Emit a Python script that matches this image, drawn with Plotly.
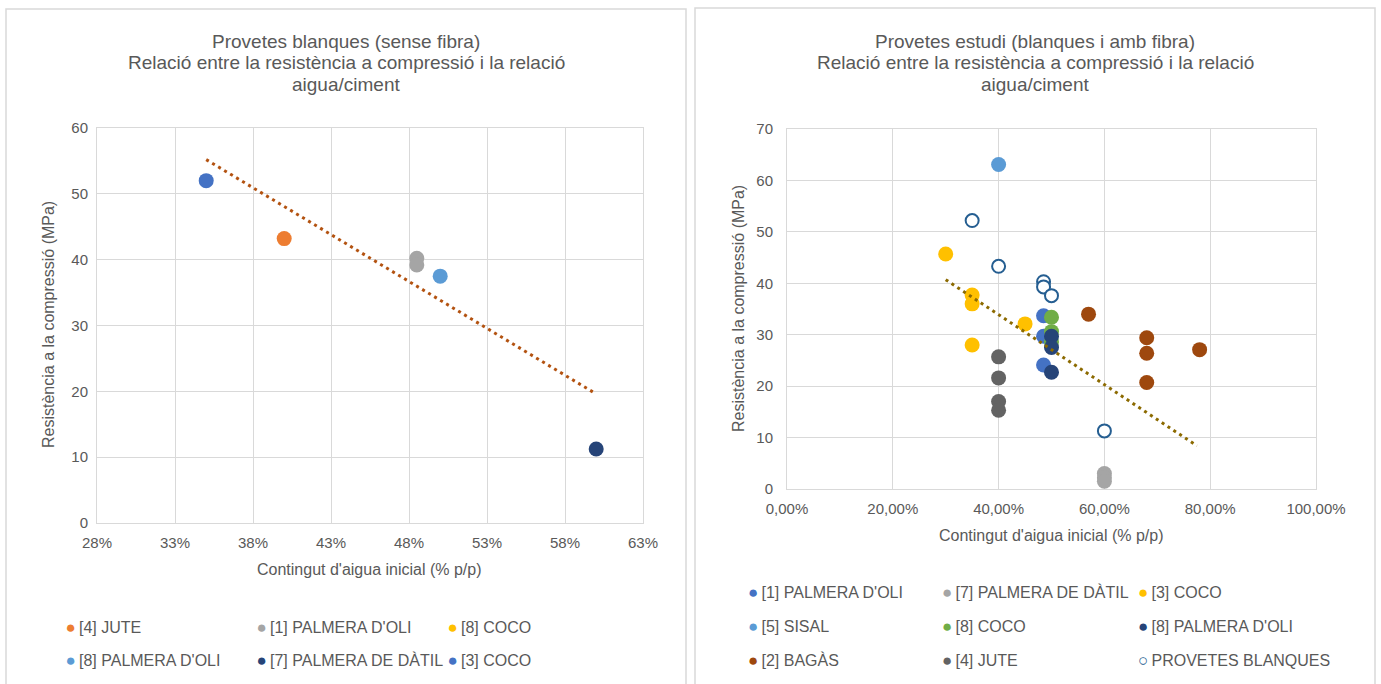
import plotly.graph_objects as go

W, H = 1381, 684

# ---------------- data: left chart (blank specimens) ----------------
L_NAMES = ["[4] JUTE", "[1] PALMERA D'OLI", "[8] COCO",
           "[8] PALMERA D'OLI", "[7] PALMERA DE DÀTIL", "[3] COCO"]
L_X = [[0.40], [0.485, 0.485], [], [0.50], [0.60], [0.35]]
L_Y = [[43.2], [40.2, 39.2], [], [37.5], [11.25], [52.0]]
L_TREND_X = [0.35, 0.60]
L_TREND_Y = [55.2, 19.6]

# ---------------- data: right chart (study specimens) ----------------
R_NAMES = ["[1] PALMERA D'OLI", "[7] PALMERA DE DÀTIL", "[3] COCO",
           "[5] SISAL", "[8] COCO", "[8] PALMERA D'OLI",
           "[2] BAGÀS", "[4] JUTE", "PROVETES BLANQUES"]
R_X = [
    [0.485, 0.485, 0.485],
    [0.60, 0.60, 0.60],
    [0.30, 0.35, 0.35, 0.35, 0.45],
    [0.40],
    [0.50, 0.50, 0.50],
    [0.50, 0.50, 0.50],
    [0.57, 0.68, 0.68, 0.68, 0.78],
    [0.40, 0.40, 0.40, 0.40],
    [0.35, 0.40, 0.485, 0.485, 0.50, 0.60],
]
R_Y = [
    [33.7, 29.7, 24.1],
    [3.0, 2.2, 1.5],
    [45.7, 37.7, 36.0, 28.0, 32.1],
    [63.1],
    [33.4, 30.6, 28.6],
    [29.7, 27.5, 22.7],
    [34.0, 29.4, 26.4, 20.7, 27.1],
    [25.7, 21.6, 17.0, 15.3],
    [52.2, 43.3, 40.3, 39.3, 37.6, 11.3],
]
R_TREND_X = [0.30, 0.775]
R_TREND_Y = [40.7, 8.4]

L_XTICKS = [0.28, 0.33, 0.38, 0.43, 0.48, 0.53, 0.58, 0.63]

TITLE_L = ["Provetes blanques (sense fibra)",
           "Relació entre la resistència a compressió i la relació",
           "aigua/ciment"]
TITLE_R = ["Provetes estudi (blanques i amb fibra)",
           "Relació entre la resistència a compressió i la relació",
           "aigua/ciment"]
X_TITLE = "Contingut d'aigua inicial (% p/p)"
Y_TITLE = "Resistència a la compressió (MPa)"

# ---------------- styles ----------------
L_COLORS = ["#ED7D31", "#A5A5A5", "#FFC000", "#5B9BD5", "#264478", "#4472C4"]
R_COLORS = ["#4472C4", "#A5A5A5", "#FFC000", "#5B9BD5", "#70AD47",
            "#264478", "#9E480E", "#636363", "#255E91"]
TXT = "#595959"
GRID = "#D9D9D9"
FONT = "Liberation Sans"


def px(x):
    return x / W


def py(y):
    return 1 - y / H


fig = go.Figure()

for name, xs, ys, c in zip(L_NAMES, L_X, L_Y, L_COLORS):
    fig.add_trace(go.Scatter(x=xs, y=ys, mode="markers", name=name,
                             marker=dict(size=15, color=c),
                             showlegend=False, xaxis="x", yaxis="y"))
fig.add_trace(go.Scatter(x=L_TREND_X, y=L_TREND_Y, mode="lines",
                         line=dict(color="#B35210", width=3, dash="3px,4px"),
                         showlegend=False, xaxis="x", yaxis="y"))

for name, xs, ys, c in zip(R_NAMES, R_X, R_Y, R_COLORS):
    if name == "PROVETES BLANQUES":
        mk = dict(size=13, color="white", line=dict(color=c, width=2))
    else:
        mk = dict(size=15, color=c)
    fig.add_trace(go.Scatter(x=xs, y=ys, mode="markers", name=name,
                             marker=mk, showlegend=False,
                             xaxis="x2", yaxis="y2"))
fig.add_trace(go.Scatter(x=R_TREND_X, y=R_TREND_Y, mode="lines",
                         line=dict(color="#8C6A00", width=3, dash="3px,4px"),
                         showlegend=False, xaxis="x2", yaxis="y2"))

legend_layouts = {}
LEG_FONT = dict(family=FONT, size=16, color=TXT)


def add_row(legname, names, colors, widths, xstart, ycenter, axis):
    for n, c, w in zip(names, colors, widths):
        if n == "PROVETES BLANQUES":
            glyph = f"<span style='color:{c};font-weight:bold;font-size:17px'>○</span>"
        else:
            glyph = f"<span style='color:{c};font-size:17px'>●</span>"
        fig.add_trace(go.Scatter(x=[None], y=[None], mode="lines",
                                 line=dict(width=0, color=c),
                                 name=glyph + "\u2009" + n, legend=legname,
                                 legendwidth=w, hoverinfo="skip",
                                 xaxis="x" if axis == 1 else "x2",
                                 yaxis="y" if axis == 1 else "y2"))
    legend_layouts[legname] = dict(orientation="h", x=px(xstart), xanchor="left",
                                   y=py(ycenter), yanchor="middle",
                                   font=LEG_FONT, bgcolor="rgba(0,0,0,0)",
                                   itemclick=False, itemdoubleclick=False)


add_row("legend", L_NAMES[0:3], L_COLORS[0:3], [146, 146, 110], 25.5, 627, 1)
add_row("legend2", L_NAMES[3:6], L_COLORS[3:6], [146, 146, 110], 25.5, 660, 1)
add_row("legend3", R_NAMES[0:3], R_COLORS[0:3], [149, 151, 120], 708, 592, 2)
add_row("legend4", R_NAMES[3:6], R_COLORS[3:6], [149, 151, 150], 708, 626, 2)
add_row("legend5", R_NAMES[6:9], R_COLORS[6:9], [149, 151, 190], 708, 660, 2)

axis_common = dict(showgrid=True, gridcolor=GRID, gridwidth=1, zeroline=False,
                   showline=True, linecolor=GRID, linewidth=1, mirror=True,
                   ticks="", tickfont=dict(family=FONT, size=15, color=TXT),
                   fixedrange=True, automargin=False)

fig.update_layout(
    template="none",
    width=W, height=H, autosize=False,
    margin=dict(l=0, r=0, t=0, b=0, pad=0, autoexpand=False),
    paper_bgcolor="white", plot_bgcolor="white",
    separators=",.",
    font=dict(family=FONT, color=TXT),
    hovermode=False,
    xaxis=dict(domain=[px(97), px(643)], range=[0.28, 0.63],
               tickvals=L_XTICKS, tickformat=".0%", anchor="y",
               ticklabelstandoff=6, **axis_common),
    yaxis=dict(domain=[py(523), py(128)], range=[0, 60], dtick=10,
               anchor="x", ticklabelstandoff=5, **axis_common),
    xaxis2=dict(domain=[px(787), px(1316)], range=[0, 1], dtick=0.2,
                tickformat=".2%", anchor="y2", ticklabelstandoff=6,
                **axis_common),
    yaxis2=dict(domain=[py(489), py(129)], range=[0, 70], dtick=10,
                anchor="x2", ticklabelstandoff=10, **axis_common),
    **legend_layouts,
)

# chart panel borders
fig.add_shape(type="rect", xref="paper", yref="paper",
              x0=px(6), x1=px(686), y0=py(700), y1=py(9),
              line=dict(color=GRID, width=1.5), layer="below")
fig.add_shape(type="rect", xref="paper", yref="paper",
              x0=px(695), x1=px(1375), y0=py(700), y1=py(8),
              line=dict(color=GRID, width=1.5), layer="below")

TITLE_FONT = dict(family=FONT, size=19, color=TXT)
AX_FONT = dict(family=FONT, size=16, color=TXT)
ann = []
for line, yy in zip(TITLE_L, [41, 63, 85]):
    ann.append(dict(text=line, x=px(346), y=py(yy), font=TITLE_FONT))
for line, yy in zip(TITLE_R, [41, 63, 85]):
    ann.append(dict(text=line, x=px(1035), y=py(yy), font=TITLE_FONT))
ann += [
    dict(text=X_TITLE, x=px(370), y=py(569), font=AX_FONT),
    dict(text=X_TITLE, x=px(1051), y=py(535), font=AX_FONT),
    dict(text=Y_TITLE, x=px(48), y=py(325), textangle=-90, font=AX_FONT),
    dict(text=Y_TITLE, x=px(738), y=py(309), textangle=-90, font=AX_FONT),
]
for a in ann:
    fig.add_annotation(xref="paper", yref="paper", showarrow=False,
                       xanchor="center", yanchor="middle", **a)

fig.write_html(
    "out.html",
    config={"displayModeBar": False},
    post_script="document.body.style.margin='0px';"
                "document.body.style.overflow='hidden';",
)
